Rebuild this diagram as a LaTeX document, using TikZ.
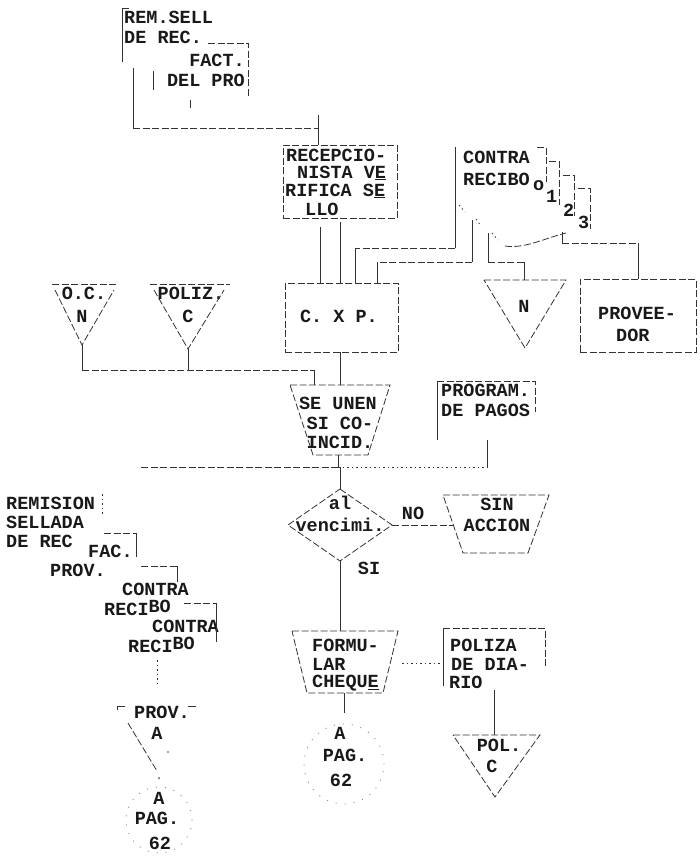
\documentclass[tikz,border=0pt]{standalone}
\usepackage{fontspec}
\newfontfamily\tw{Liberation Mono}
\begin{document}
\begin{tikzpicture}[x=1pt,y=-1pt,
  ln/.style={draw=black!80,line width=0.8pt},
  dl/.style={ln,dash pattern=on 7pt off 2.5pt},
  dt/.style={ln,dash pattern=on 1.5pt off 3pt},
  faint/.style={draw=black!45,line width=0.9pt,dash pattern=on 1pt off 8pt},
  tx/.style={font=\tw\bfseries\fontsize{18.5}{18.5}\selectfont,inner sep=0pt,anchor=west,text=black!90},
  txc/.style={tx,anchor=center}]
\useasboundingbox[fill=white] (0,0) rectangle (699,857);

% ---------- top document pair
\node[tx] (remA) at (124,17) {REM.SELL};
\node[tx] (remB) at (124,37) {DE REC.};
\node[tx,anchor=east] (facA) at (245,60) {FACT.};
\node[tx,anchor=east] (facB) at (245,80) {DEL PRO};
\draw[ln] (129,8) -- (122,8) -- (122,62);
\draw[dl] (208,43) -- (248,43) -- (248,96);
\draw[ln] (153,71) -- (153,90);
\draw[ln] (190,100) -- (190,108);
\coordinate (docOut) at (133,68);
\coordinate (docBend) at (133,128);

% ---------- RECEPCIONISTA
\node[dl,inner sep=0pt,minimum width=114pt,minimum height=73pt] (rec) at (340,181.5) {};
\node[tx] (recA) at (286,155) {RECEPCIO-};
\node[tx] (recB) at (297,173) {NISTA V\underline{E}};
\node[tx] (recC) at (285,191) {RIFICA S\underline{E}};
\node[tx] (recD) at (305,209) {LLO};
\coordinate (recIn) at ([xshift=-22pt]rec.north);
\coordinate (recTop) at (318,115);
\draw[ln] (docOut) -- (docBend);
\draw[dl] (docBend) -- (recIn |- docBend);
\draw[ln] (recTop) -- (recIn);

% ---------- C X P
\node[dl,inner sep=0pt,minimum width=113pt,minimum height=69pt] (cxp) at (341.5,317.5) {};
\node[txc] (cxpT) at (339,316) {C. X P.};
\coordinate (recOut1) at ([xshift=-20pt]rec.south);
\coordinate (recOut2) at (rec.south);
\draw[ln] ([yshift=-9pt]recOut1) -- (recOut1 |- cxp.north);
\draw[ln] ([yshift=-4pt]recOut2) -- (recOut2 |- cxp.north);

% ---------- CONTRA RECIBO stack
\node[tx] (crA) at (463,157) {CONTRA};
\node[tx] (crB) at (463,179) {RECIBO};
\draw[dl] (537,147) -- (546,147) -- (546,182);
\draw[dl] (549,161) -- (559,161) -- (559,205);
\draw[dl] (563,175) -- (574,175) -- (574,216);
\draw[dl] (578,188) -- (590,188) -- (590,229);
\node[tx] (cn0) at (533,186) {o};
\node[tx] (cn1) at (546,196) {1};
\node[tx] (cn2) at (563,210) {2};
\node[tx] (cn3) at (578,222) {3};
\draw[dt] (459,205) -- (465,212);
\draw[dt] (476,219) -- (481,226);
\draw[dt] (492,233) -- (498,240);
\draw[dl] (505,246) .. controls (525,249) and (545,238) .. (566,233);
\coordinate (cr0) at (455,147);
\coordinate (cr1) at (472,220);
\coordinate (cr2) at (488,233);
\coordinate (cr3) at (562,232);
\coordinate (h0) at (455,248);
\coordinate (h1) at (472,262);
\coordinate (h2) at (488,262);
\coordinate (h3) at (562,243);
\coordinate (cxpIn1) at ([xshift=14pt]cxp.north);
\coordinate (cxpIn2) at ([xshift=36pt]cxp.north);

% ---------- N file
\node[txc] (nT) at (524,306) {N};
\coordinate (nIn) at (524,280);
\draw[dl] (484,280) -- (566,280) -- (525,348) -- cycle;

% ---------- PROVEEDOR
\node[dl,inner sep=0pt,minimum width=116pt,minimum height=73pt] (prv) at (638,315.5) {};
\node[tx] (prvA) at (598,313) {PROVEE-};
\node[tx] (prvB) at (616,335) {DOR};

% connectors from the copies
\draw[ln] (cr0) -- (h0);
\draw[dl] (h0) -- (cxpIn1 |- h0);
\draw[ln] (cxpIn1 |- h0) -- (cxpIn1);
\draw[ln] (cr1) -- (h1);
\draw[dl] (h1) -- (cxpIn2 |- h1);
\draw[ln] (cxpIn2 |- h1) -- (cxpIn2);
\draw[ln] (cr2) -- (h2);
\draw[dl] (h2) -- (nIn |- h2);
\draw[ln] (nIn |- h2) -- (nIn);
\draw[ln] (cr3) -- (h3);
\draw[dl] (h3) -- (prv.north |- h3);
\draw[ln] (prv.north |- h3) -- (prv.north);

% ---------- O.C. and POLIZ. files
\node[txc] (ocA) at (84,293) {O.C.};
\node[txc] (ocB) at (82,316) {N};
\draw[dl] (52,284) -- (118,284);
\draw[dl] (55,290) -- (82,345) -- (114,290);
\coordinate (ocOut) at (82,345);
\node[txc] (pzA) at (191,293) {POLIZ.};
\node[txc] (pzB) at (188,316) {C};
\draw[dl] (150,284) -- (230,284);
\draw[dl] (154,290) -- (188,349) -- (224,290);
\coordinate (pzOut) at (188,349);
\coordinate (jL) at (82,370);
\coordinate (jM) at (314,370);
\draw[ln] (ocOut) -- (jL);
\draw[ln] (pzOut) -- (pzOut |- jL);
\draw[dl] (jL) -- (jM);

% ---------- SE UNEN
\node[txc] (seA) at (338,403) {SE UNEN};
\node[txc] (seB) at (340,423) {SI CO-};
\node[txc] (seC) at (340,442) {INCID.};
\draw[dl] (290,385) -- (390,385) -- (368,455) -- (313,455) -- cycle;
\coordinate (seIn1) at (314,385);
\coordinate (seIn2) at (340,385);
\coordinate (seOut) at (338,455);
\coordinate (cxpOut) at ([xshift=-1.5pt]cxp.south);
\draw[ln] (jM) -- (seIn1);
\draw[ln] (cxpOut) -- (cxpOut |- seIn2);

% ---------- PROGRAM. DE PAGOS
\node[tx] (pgA) at (441,390) {PROGRAM.};
\node[tx] (pgB) at (441,410) {DE PAGOS};
\draw[ln] (437,440) -- (437,381);
\draw[dl] (437,381) -- (535,381) -- (535,412);
\coordinate (pgOut) at (487,440);

% ---------- junction
\coordinate (jn) at (338,467);
\coordinate (remIn) at (140,467);
\draw[ln] (seOut) -- (jn);
\draw[dl] (jn) -- (remIn);
\draw[dt] (jn) -- (pgOut |- jn);
\draw[ln] (pgOut |- jn) -- (pgOut);

% ---------- decision
\coordinate (dT) at (340,489);
\coordinate (dR) at (392,525);
\coordinate (dB) at (340,561);
\coordinate (dL) at (288,525);
\draw[dl] (dT) -- (dR) -- (dB) -- (dL) -- cycle;
\node[txc] (dA) at (340,503) {al};
\node[txc] (dV) at (340,525) {vencimi.};
\draw[ln] (jn -| dT) -- (dT);

% ---------- SIN ACCION
\node[txc] (no) at (413,513) {NO};
\coordinate (saL) at (453,525);
\draw[dl] (443,495) -- (549,495) -- (528,553) -- (463,553) -- cycle;
\node[txc] (saA) at (497,504) {SIN};
\node[txc] (saB) at (497,525) {ACCION};
\draw[dl] (dR) -- (saL);

% ---------- FORMULAR CHEQUE
\node[txc] (si) at (369,568) {SI};
\coordinate (fmIn) at (340,631);
\draw[ln] (dB) -- (fmIn);
\draw[dl] (292,631) -- (398,631) -- (383,693) -- (307,693) -- cycle;
\node[tx] (fmA) at (312,645) {FORMU-};
\node[tx] (fmB) at (312,664) {LAR};
\node[tx] (fmC) at (312,683) {CHEQU\underline{E}};
\coordinate (fmR) at (402,663);
\coordinate (fmOut) at (344,693);

% ---------- POLIZA DE DIARIO
\draw[ln] (443,686) -- (443,628);
\draw[dl] (443,628) -- (545,628) -- (545,668);
\node[tx] (pdA) at (450,645) {POLIZA};
\node[tx] (pdB) at (451,664) {DE DIA-};
\node[tx] (pdC) at (449,682) {RIO};
\coordinate (pdL) at (440,663);
\coordinate (pdOut) at (494,690);
\draw[dt] (fmR) -- (pdL);

% ---------- off-page connector centre
\coordinate (opIn) at (344,713);
\draw[ln] (fmOut) -- (opIn);
\node[faint,circle,minimum size=80pt] (opC) at (344,764) {};
\node[txc] (opA) at (340,733) {A};
\node[txc] (opB) at (345,755) {PAG.};
\node[txc] (opD) at (341,780) {62};

% ---------- POL. C file
\coordinate (polIn) at (494,735);
\draw[ln] (pdOut) -- (polIn);
\draw[dl] (453,735) -- (540,735) -- (495,797) -- cycle;
\node[txc] (polA) at (499,745) {POL.};
\node[txc] (polB) at (492,766) {C};

% ---------- left document stack
\node[tx] (lrA) at (6,503) {REMISION};
\node[tx] (lrB) at (6,522) {SELLADA};
\node[tx] (lrC) at (6,541) {DE REC};
\node[tx] (lrD) at (88,551) {FAC.};
\node[tx] (lrE) at (50,570) {PROV.};
\node[tx] (lrF) at (122,589) {CONTRA};
\node[tx] (lrG) at (104,608) {RECI\raisebox{3pt}{BO}};
\node[tx] (lrH) at (152,626) {CONTRA};
\node[tx] (lrI) at (128,645) {RECI\raisebox{3pt}{BO}};
\draw[dt] (102,494) -- (102,514);
\draw[dl] (104,533) -- (136,533);
\draw[ln] (136,533) -- (136,557);
\draw[dl] (141,566) -- (177,566);
\draw[ln] (177,566) -- (177,582);
\draw[dl] (184,603) -- (216,603);
\draw[ln] (216,603) -- (216,642);

% ---------- PROV. A file and connector
\coordinate (lsOut) at (157,660);
\coordinate (pvIn) at (157,686);
\draw[dt] (lsOut) -- (pvIn);
\draw[ln] (117,710) -- (117,706) -- (125,706);
\draw[ln] (188,706) -- (196,706);
\node[txc] (pvA) at (162,712) {PROV.};
\node[txc] (pvB) at (157,733) {A};
\draw[dl] (128,723) -- (157,771);
\fill[black!70] (168,752) circle (0.8pt);
\coordinate (pvOut) at (159,778);
\fill[black!70] (pvOut) circle (1pt);
\node[faint,circle,minimum size=66pt] (opL) at (159,820) {};
\node[txc] (olA) at (159,798) {A};
\node[txc] (olB) at (157,818) {PAG.};
\node[txc] (olC) at (160,843) {62};
\end{tikzpicture}
\end{document}
